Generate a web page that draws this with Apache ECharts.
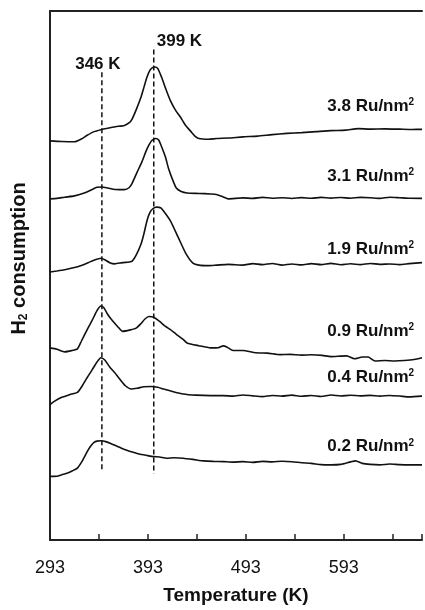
<!DOCTYPE html>
<html>
<head>
<meta charset="utf-8">
<script src="https://cdn.jsdelivr.net/npm/echarts@6/dist/echarts.min.js"></script>
<style>
  html, body { margin: 0; padding: 0; background: #fff; overflow: hidden; }
  #chart { width: 425px; height: 610px; }
</style>
</head>
<body>
<div id="chart"></div>
<script>
// H2-TPR profiles of Ru catalysts at different Ru surface densities.
// Temperatures in K, signal in arbitrary units (traces are offset vertically).
const T0 = 293;          // start of the temperature scan
const TMAX = 673;        // end of the temperature scan

const loadings = ['3.8', '3.1', '1.9', '0.9', '0.4', '0.2'];

const t38 = [293,305,318,325,331,338,345,352,360,369,374,377,381,386,389,392,395,398,400,403,407,411,416,421,426,431,437,441,445,455,463,475,490,505,520,535,550,565,580,595,608,620,635,650,663,673];
const v38 = [40.37,40.30,40.27,40.55,40.93,41.30,41.50,41.65,41.80,41.93,42.20,42.60,43.50,44.80,45.80,46.80,47.50,47.80,47.83,47.70,46.80,45.70,44.43,43.50,42.80,42.00,41.30,40.85,40.60,40.53,40.60,40.65,40.77,40.85,41.00,41.12,41.20,41.30,41.40,41.45,41.60,41.55,41.58,41.55,41.52,41.53];

const t31 = [293,300,308,318,328,335,341,346,352,360,369,374,377,382,387,391,394,397,401,404,407,411,414,418,422,427,433,445,457,463,470,475,490,500,510,520,530,540,550,560,570,580,590,600,610,620,630,640,650,660,673];
const v31 = [34.50,34.55,34.67,34.80,35.10,35.40,35.67,35.70,35.60,35.45,35.43,35.65,36.10,37.20,38.27,39.30,39.93,40.40,40.60,40.45,39.77,38.70,37.60,36.50,35.60,35.25,35.10,35.05,35.00,34.95,34.70,34.50,34.60,34.55,34.65,34.57,34.62,34.54,34.63,34.56,34.65,34.58,34.64,34.57,34.65,34.62,34.55,34.67,34.62,34.56,34.55];

const t19 = [293,300,308,318,325,332,338,345,349,354,359,367,374,377,381,386,389,392,395,398,402,406,409,416,424,432,439,445,455,463,475,490,500,510,520,530,540,550,560,570,580,590,600,610,620,630,640,650,660,673];
const v19 = [27.10,27.20,27.33,27.55,27.77,28.05,28.30,28.50,28.35,28.05,27.93,28.05,28.12,28.20,28.80,29.93,31.00,32.27,33.10,33.50,33.67,33.60,33.27,32.27,30.60,28.93,28.00,27.80,27.75,27.80,27.88,27.80,27.95,27.85,27.97,27.80,27.92,27.82,27.95,27.85,27.98,27.84,27.94,27.85,27.97,27.88,27.92,27.85,27.95,28.05];

const t09 = [293,300,308,315,321,325,331,336,341,345,348,352,356,362,367,375,381,386,390,394,399,405,411,416,422,429,433,445,457,465,470,474,480,490,503,515,528,538,550,560,571,580,590,596,604,612,618,625,635,645,655,665,673];
const v09 = [19.43,19.30,19.03,19.15,19.33,20.10,21.27,22.20,23.20,23.67,23.50,22.80,22.27,21.60,21.10,21.25,21.43,21.90,22.35,22.60,22.53,22.10,21.60,21.27,20.80,20.30,19.93,19.65,19.43,19.45,19.63,19.50,19.17,19.17,18.93,18.90,18.75,18.77,18.70,18.73,18.67,18.55,18.60,18.62,18.33,18.50,18.50,18.10,18.15,18.10,18.15,18.25,18.43];

const t04 = [293,297,305,313,321,326,331,336,341,345,349,354,359,364,370,376,382,389,396,403,409,419,429,442,457,470,480,490,500,510,520,530,540,550,560,570,580,590,600,610,620,630,640,650,660,673];
const v04 = [13.70,14.00,14.43,14.70,14.93,15.60,16.43,17.20,18.00,18.43,18.20,17.50,16.93,16.30,15.60,15.27,15.35,15.50,15.53,15.45,15.27,15.00,14.77,14.65,14.60,14.60,14.55,14.67,14.58,14.50,14.62,14.55,14.65,14.54,14.62,14.52,14.66,14.57,14.64,14.58,14.63,14.55,14.62,14.56,14.47,14.55];

const t02 = [293,300,305,311,316,321,326,331,335,338,341,345,350,355,362,369,376,384,392,399,405,412,420,429,439,450,460,470,480,490,500,510,520,530,540,550,560,570,580,590,600,605,612,620,630,640,650,660,673];
const v02 = [6.43,6.45,6.60,6.77,7.00,7.27,8.00,8.93,9.55,9.87,10.00,10.03,9.95,9.77,9.45,9.15,8.93,8.70,8.55,8.43,8.40,8.27,8.32,8.27,8.15,8.00,7.95,7.93,7.88,7.93,7.85,7.95,7.90,7.97,7.92,7.82,7.75,7.62,7.60,7.65,7.90,8.00,7.75,7.65,7.60,7.68,7.62,7.60,7.60];

// Where each trace's caption sits (temperature of its right edge, signal level)
const captionT = 665;
const captionV = [43.9, 36.8, 29.43, 21.1, 16.43, 9.43];

// Peak reference lines
const refTemps = [346, 399];
const refTop = [47.3, 49.6];
const refBottom = [7.0, 6.7];

const tickLabels = [293, 393, 493, 593];

const FONT = '"Liberation Sans", Arial, Helvetica, sans-serif';
const INK = '#111';
const FRAME = '#222';

const traces = [[t38, v38], [t31, v31], [t19, v19], [t09, v09], [t04, v04], [t02, v02]];

// x data is plotted as offset from the scan start so ticks fall on 293, 343, 393 ...
const toXY = (ts, vs) => ts.map((t, i) => [t - T0, vs[i]]);

const series = traces.map(([ts, vs], i) => ({
  name: loadings[i] + ' Ru/nm2',
  type: 'line',
  data: toXY(ts, vs),
  showSymbol: false,
  smooth: 0.2,
  lineStyle: { color: INK, width: 1.6 },
  silent: true,
  z: 3
}));

refTemps.forEach((t, i) => {
  series.push({
    type: 'line',
    data: [[t - T0, refTop[i]], [t - T0, refBottom[i]]],
    showSymbol: false,
    lineStyle: { color: INK, width: 1.5, type: [5, 3] },
    silent: true,
    z: 2
  });
});

const chart = echarts.init(document.getElementById('chart'), null, { renderer: 'canvas', width: 425, height: 610 });

chart.setOption({
  animation: false,
  backgroundColor: '#fff',
  grid: { left: 50, top: 11, right: -1, bottom: 64 },
  xAxis: [{
    type: 'value',
    min: 0,
    max: TMAX - T0,
    interval: 50,
    name: 'Temperature (K)',
    nameLocation: 'middle',
    nameGap: 46,
    nameTextStyle: { fontFamily: FONT, fontSize: 19, fontWeight: 'bold', color: INK },
    axisLine: { show: true, lineStyle: { color: FRAME, width: 2 } },
    axisTick: { show: true, inside: true, length: 6, lineStyle: { color: FRAME, width: 1.5 } },
    axisLabel: {
      margin: 19,
      fontFamily: FONT, fontSize: 18, color: INK,
      formatter: v => (tickLabels.indexOf(v + T0) >= 0 ? String(v + T0) : '')
    },
    splitLine: { show: false }
  }, {
    // top frame line
    type: 'value',
    position: 'top',
    min: 0,
    max: TMAX - T0,
    axisLine: { show: true, lineStyle: { color: FRAME, width: 2 } },
    axisTick: { show: false },
    axisLabel: { show: false },
    splitLine: { show: false }
  }],
  yAxis: {
    type: 'value',
    min: 0,
    max: 53.5,
    name: '{a|H}{b|2}{a| consumption}',
    nameLocation: 'middle',
    nameGap: 20,
    nameTextStyle: {
      color: INK,
      padding: [0, 0, 0, 34],
      rich: {
        a: { fontFamily: FONT, fontSize: 20, fontWeight: 'bold', color: INK, lineHeight: 22 },
        b: { fontFamily: FONT, fontSize: 12, fontWeight: 'bold', color: INK, lineHeight: 12, verticalAlign: 'bottom' }
      }
    },
    axisLine: { show: true, lineStyle: { color: FRAME, width: 2 } },
    axisTick: { show: false },
    axisLabel: { show: false },
    splitLine: { show: false }
  },
  series: series
});

// Captions and peak labels, placed through the chart's own coordinate system
const px = (t, v) => chart.convertToPixel({ xAxisIndex: 0, yAxisIndex: 0 }, [t - T0, v]);
const graphics = [];

loadings.forEach((ld, i) => {
  const p = px(captionT, captionV[i]);
  graphics.push({
    type: 'text',
    x: p[0], y: p[1],
    style: {
      text: '{m|' + ld + ' Ru/nm}{s|2}',
      align: 'right',
      verticalAlign: 'middle',
      rich: {
        m: { fontFamily: FONT, fontSize: 17, fontWeight: 'bold', fill: INK, lineHeight: 18 },
        s: { fontFamily: FONT, fontSize: 10, fontWeight: 'bold', fill: INK, lineHeight: 10, verticalAlign: 'top' }
      }
    },
    silent: true
  });
});

const r0 = px(refTemps[0], refTop[0]);
graphics.push({
  type: 'text', x: r0[0] - 4, y: r0[1] + 1,
  style: { text: refTemps[0] + ' K', align: 'center', verticalAlign: 'bottom',
           fontFamily: FONT, fontSize: 17, fontWeight: 'bold', fill: INK },
  silent: true
});
const r1 = px(refTemps[1], refTop[1]);
graphics.push({
  type: 'text', x: r1[0] + 3, y: r1[1],
  style: { text: refTemps[1] + ' K', align: 'left', verticalAlign: 'bottom',
           fontFamily: FONT, fontSize: 17, fontWeight: 'bold', fill: INK },
  silent: true
});

chart.setOption({ graphic: graphics });
</script>
</body>
</html>
